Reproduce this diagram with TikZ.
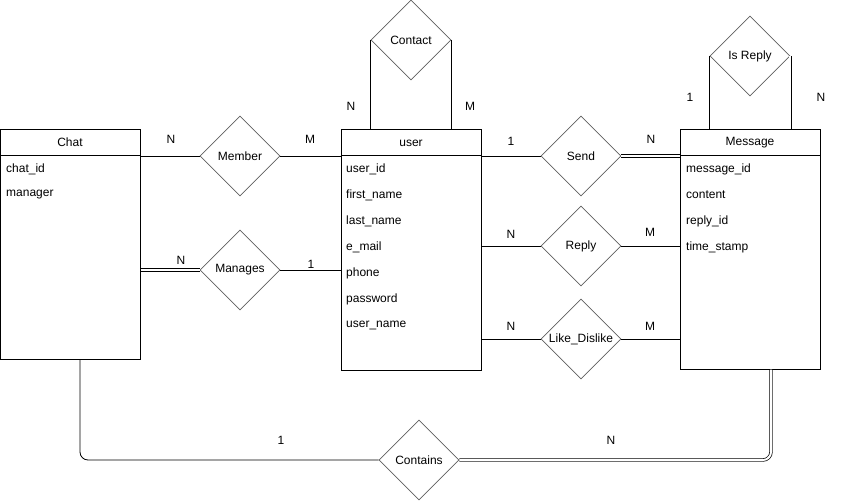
\documentclass[tikz,border=0pt]{standalone}
\usepackage{fontspec}
\setmainfont{Liberation Sans}
\usetikzlibrary{shapes.geometric}

\definecolor{relgray}{RGB}{95,95,95}
\tikzset{
  entity/.style={draw, line width=1pt, minimum width=140pt, inner sep=0pt},
  attr/.style={anchor=west, inner sep=0pt, font=\fontsize{12}{14}\selectfont},
  title/.style={inner sep=0pt, font=\fontsize{12}{14}\selectfont},
  rel/.style={shape=diamond, draw=relgray, line width=0.8pt, minimum width=80pt, minimum height=80pt, inner sep=0pt, font=\fontsize{12}{14}\selectfont},
  card/.style={inner sep=0pt, font=\fontsize{12}{14}\selectfont},
  link/.style={line width=0.8pt},
  dbl/.style={double, double distance=2pt, line width=0.7pt}
}

\begin{document}
\begin{tikzpicture}[x=1pt, y=-1pt]
  \useasboundingbox (0,0) rectangle (841,501);

  % entities
  \node[entity, minimum height=230pt] (chat) at (70,244) {};
  \node[title] (chatT) at (70,142) {Chat};
  \draw[line width=1pt] (chat.west |- 0,155) -- (chat.east |- 0,155);
  \node[attr] (chatA1) at (6,169) {chat\_id};
  \node[attr] (chatA2) at (6,195) {manager};

  \node[entity, minimum height=241pt] (user) at (411,249.5) {};
  \node[title] (userT) at (411,143) {user};
  \draw[line width=1pt] (user.west |- 0,155) -- (user.east |- 0,155);
  \foreach \name [count=\i] in {user\_id, first\_name, last\_name, e\_mail, phone, password, user\_name}
    \node[attr] (userA\i) at (346,{143+26*\i}) {\name};

  \node[entity, minimum height=240pt] (msg) at (750,249) {};
  \node[title] (msgT) at (750,143) {Message};
  \draw[line width=1pt] (msg.west |- 0,155) -- (msg.east |- 0,155);
  \foreach \name [count=\i] in {message\_id, content, reply\_id, time\_stamp}
    \node[attr] (msgA\i) at (686,{143+26*\i}) {\name};

  % relations
  \node[rel] (contact) at (411,40) {Contact};
  \node[rel] (member) at (240,156) {Member};
  \node[rel] (manages) at (240,270) {Manages};
  \node[rel] (send) at (581,156) {Send};
  \node[rel] (reply) at (581,246) {Reply};
  \node[rel] (likes) at (581,339) {\makebox[50pt]{Like\_Dislike}};
  \node[rel] (isreply) at (750,56) {Is Reply};
  \node[rel] (contains) at (419,460) {Contains};

  % connectors
  \draw[link] (contact.west) -- (contact.west |- user.north);
  \draw[link] (contact.east) -- (contact.east |- user.north);
  \draw[link] (chat.east |- member) -- (member.west);
  \draw[link] (member.east) -- (user.west |- member);
  \draw[dbl] (chat.east |- manages) -- (manages.west);
  \draw[link] (manages.east) -- (user.west |- manages);
  \draw[link] (user.east |- send) -- (send.west);
  \draw[dbl] (send.east) -- (msg.west |- send);
  \draw[link] (user.east |- reply) -- (reply.west);
  \draw[link] (reply.east) -- (msg.west |- reply);
  \draw[link] (user.east |- likes) -- (likes.west);
  \draw[link] (likes.east) -- (msg.west |- likes);
  \draw[link] (isreply.west) -- (isreply.west |- msg.north);
  \draw[dbl] (isreply.east) -- (isreply.east |- msg.north);
  \draw[link, rounded corners=8pt] ([xshift=10pt]chat.south) |- (contains.west);
  \draw[dbl, rounded corners=8pt] (contains.east) -| ([xshift=21pt]msg.south);

  % cardinalities
  \node[card] (c1) at (351,106) {N};
  \node[card] (c2) at (470,106) {M};
  \node[card] (c3) at (171,139) {N};
  \node[card] (c4) at (310,139) {M};
  \node[card] (c5) at (181,260) {N};
  \node[card] (c6) at (311,264) {1};
  \node[card] (c7) at (511,141) {1};
  \node[card] (c8) at (651,139) {N};
  \node[card] (c9) at (511,234) {N};
  \node[card] (c10) at (650,232) {M};
  \node[card] (c11) at (511,326) {N};
  \node[card] (c12) at (650,326) {M};
  \node[card] (c13) at (690,97) {1};
  \node[card] (c14) at (821,97) {N};
  \node[card] (c15) at (281,440) {1};
  \node[card] (c16) at (611,440) {N};
\end{tikzpicture}
\end{document}
